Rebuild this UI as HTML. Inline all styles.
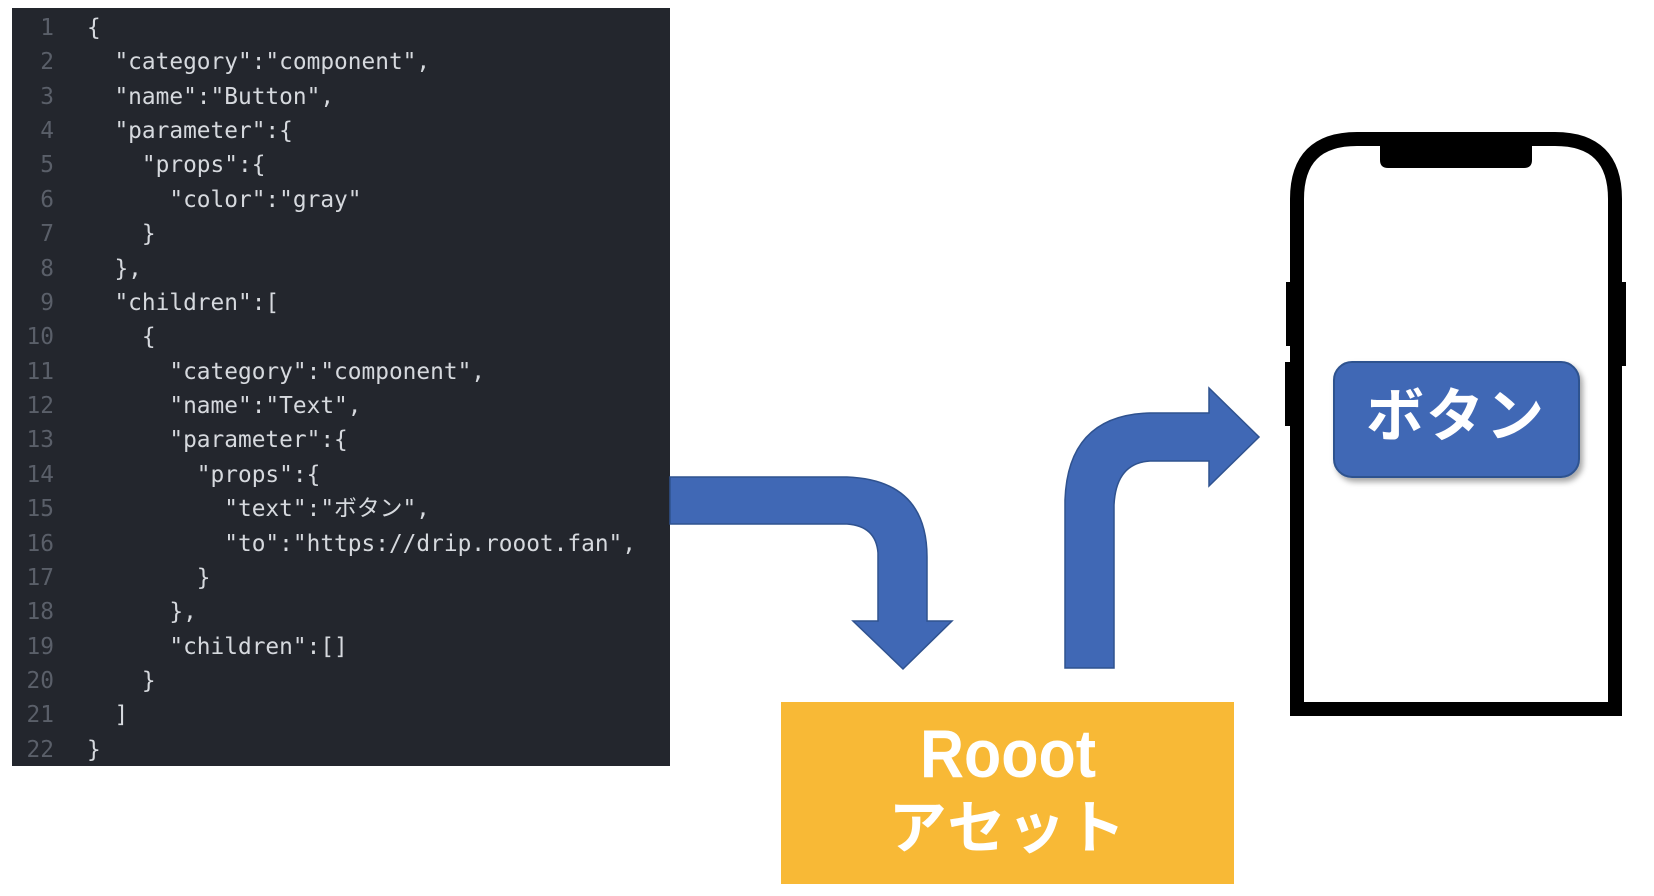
<!DOCTYPE html>
<html><head><meta charset="utf-8"><style>
html,body{margin:0;padding:0;background:#fff;}
body{width:1654px;height:896px;overflow:hidden;position:relative;}
.code text{white-space:pre;}
</style></head><body>
<svg width="1654" height="896" viewBox="0 0 1654 896" xmlns="http://www.w3.org/2000/svg" style="position:absolute;left:0;top:0">
<defs>
<filter id="sh" x="-10%" y="-10%" width="130%" height="140%"><feDropShadow dx="3" dy="4" stdDeviation="3" flood-color="#000" flood-opacity="0.35"/></filter>
</defs>
<rect x="12" y="8" width="658" height="758" fill="#23262d"/>
<g class="code" font-family="'DejaVu Sans Mono','Liberation Mono','Noto Sans CJK JP',monospace" font-size="22.8">
<g fill="#5a5f69" text-anchor="end">
<text x="54" y="35">1</text><text x="54" y="69">2</text><text x="54" y="104">3</text><text x="54" y="138">4</text><text x="54" y="172">5</text><text x="54" y="207">6</text><text x="54" y="241">7</text><text x="54" y="276">8</text><text x="54" y="310">9</text><text x="54" y="344">10</text><text x="54" y="379">11</text><text x="54" y="413">12</text><text x="54" y="447">13</text><text x="54" y="482">14</text><text x="54" y="516">15</text><text x="54" y="551">16</text><text x="54" y="585">17</text><text x="54" y="619">18</text><text x="54" y="654">19</text><text x="54" y="688">20</text><text x="54" y="722">21</text><text x="54" y="757">22</text>
</g>
<g fill="#d6d9de">
<text x="87" y="35">{</text>
<text x="87" y="69">  "category":"component",</text>
<text x="87" y="104">  "name":"Button",</text>
<text x="87" y="138">  "parameter":{</text>
<text x="87" y="172">    "props":{</text>
<text x="87" y="207">      "color":"gray"</text>
<text x="87" y="241">    }</text>
<text x="87" y="276">  },</text>
<text x="87" y="310">  "children":[</text>
<text x="87" y="344">    {</text>
<text x="87" y="379">      "category":"component",</text>
<text x="87" y="413">      "name":"Text",</text>
<text x="87" y="447">      "parameter":{</text>
<text x="87" y="482">        "props":{</text>
<text x="87" y="516">          "text":"ボタン",</text>
<text x="87" y="551">          "to":"https://drip.rooot.fan",</text>
<text x="87" y="585">        }</text>
<text x="87" y="619">      },</text>
<text x="87" y="654">      "children":[]</text>
<text x="87" y="688">    }</text>
<text x="87" y="722">  ]</text>
<text x="87" y="757">}</text>
</g>
</g>
<path d="M670 477 L847 477 Q927 480 927 557 L927 621 L952 621 L903 669 L853 621 L878 621 L878 553 Q876 526 847 524 L670 524 Z" fill="#4068b5" stroke="#2f528f" stroke-width="1.5"/>
<path d="M1065 668 L1065 500 Q1068 415 1150 413 L1209 413 L1209 388 L1259 437 L1209 486 L1209 461 L1150 461 Q1116 463 1114 505 L1114 668 Z" fill="#4068b5" stroke="#2f528f" stroke-width="1.5"/>
<rect x="781" y="702" width="453" height="182" fill="#f8b936"/>
<text x="1008" y="777" text-anchor="middle" font-family="'Liberation Sans Narrow','Liberation Sans','Noto Sans CJK JP',sans-serif" font-weight="bold" font-size="68" fill="#fff" textLength="176" lengthAdjust="spacingAndGlyphs">Rooot</text>
<text x="1008" y="848" text-anchor="middle" font-family="'Noto Sans CJK JP',sans-serif" font-weight="bold" font-size="58" fill="#fff" letter-spacing="2">アセット</text>
<rect x="1286" y="282" width="6" height="64" fill="#000"/>
<rect x="1285" y="362" width="7" height="64" fill="#000"/>
<rect x="1620" y="282" width="6" height="84" fill="#000"/>
<path d="M1297 709 L1297 199 Q1297 139 1357 139 L1555 139 Q1615 139 1615 199 L1615 709 Z" fill="#fff" stroke="#000" stroke-width="14"/>
<path d="M1380 139 L1532 139 L1532 160 Q1532 168 1524 168 L1388 168 Q1380 168 1380 160 Z" fill="#000"/>
<rect x="1334" y="362" width="245" height="115" rx="18" fill="#4068b5" stroke="#2f528f" stroke-width="2" filter="url(#sh)"/>
<text x="1456" y="436" text-anchor="middle" font-family="'Noto Sans CJK JP',sans-serif" font-weight="bold" font-size="58" fill="#fff" letter-spacing="2">ボタン</text>
</svg>
</body></html>
